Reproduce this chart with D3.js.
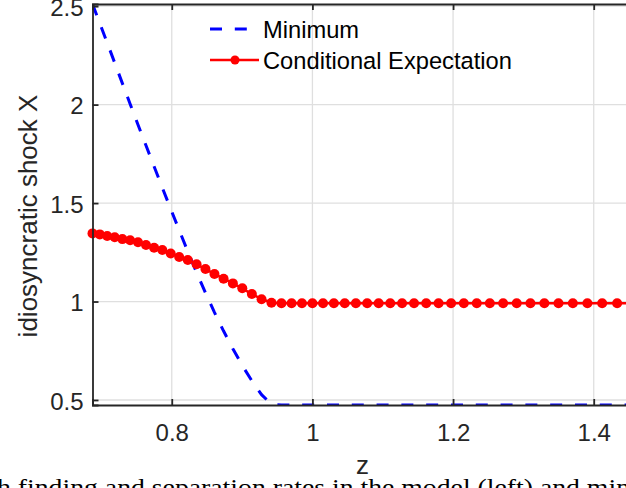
<!DOCTYPE html>
<html>
<head>
<meta charset="utf-8">
<script src="https://cdn.jsdelivr.net/npm/d3@7"></script>
<style>
  html, body { margin: 0; padding: 0; background: #fff; }
  svg { display: block; font-family: "Liberation Sans", Arial, Helvetica, sans-serif; }
</style>
</head>
<body>
<svg id="chart" width="626" height="488"></svg>
<script>
// ---- data ----
const zGrid = [
  0.6873, 0.6977, 0.7082, 0.7189, 0.7298, 0.7408, 0.7520, 0.7634, 0.7749, 0.7866,
  0.7985, 0.8106, 0.8228, 0.8353, 0.8479, 0.8607, 0.8737, 0.8869, 0.9003, 0.9139,
  0.9277, 0.9418, 0.9560, 0.9704, 0.9851, 1.0000, 1.0151, 1.0305, 1.0460, 1.0618,
  1.0779, 1.0942, 1.1107, 1.1275, 1.1445, 1.1618, 1.1794, 1.1972, 1.2153, 1.2337,
  1.2523, 1.2712, 1.2905, 1.3100, 1.3298, 1.3499, 1.3703, 1.3910, 1.4120, 1.4333,
  1.4550
];
const minimumValues = [
  2.511, 2.413, 2.314, 2.212, 2.108, 2.003, 1.898, 1.792, 1.686, 1.578,
  1.470, 1.362, 1.254, 1.148, 1.045, 0.945, 0.850, 0.760, 0.675, 0.597,
  0.527, 0.478, 0.4745, 0.4745, 0.4745, 0.4745, 0.4745, 0.4745, 0.4745, 0.4745,
  0.4745, 0.4745, 0.4745, 0.4745, 0.4745, 0.4745, 0.4745, 0.4745, 0.4745, 0.4745,
  0.4745, 0.4745, 0.4745, 0.4745, 0.4745, 0.4745, 0.4745, 0.4745, 0.4745, 0.4745,
  0.4745
];
const condExpValues = [
  1.346, 1.341, 1.333, 1.326, 1.317, 1.311, 1.301, 1.287, 1.273, 1.262,
  1.244, 1.226, 1.211, 1.189, 1.165, 1.140, 1.116, 1.092, 1.067, 1.038,
  1.012, 0.994, 0.991, 0.991, 0.991, 0.991, 0.991, 0.991, 0.991, 0.991,
  0.991, 0.991, 0.991, 0.991, 0.991, 0.991, 0.991, 0.991, 0.991, 0.991,
  0.991, 0.991, 0.991, 0.991, 0.991, 0.991, 0.991, 0.991, 0.991, 0.991,
  0.991
];
const xTicks = [0.8, 1, 1.2, 1.4];
const yTicks = [0.5, 1, 1.5, 2, 2.5];
const seriesNames = ["Minimum", "Conditional Expectation"];
const xLabel = "z";
const yLabel = "idiosyncratic shock X";
const captionText = "h finding and separation rates in the model (left) and min";

// ---- layout ----
const svg = d3.select("#chart");
const L = 92.5, R = 632.4, T = 4, B = 405;
const axisColor = "#262626";
const sans = "'Liberation Sans', Arial, Helvetica, sans-serif";

const x = d3.scaleLinear().domain([0.6873, 1.455]).range([L, R]);
const y = d3.scaleLinear().domain([0.4745, 2.511]).range([B, T]);

svg.append("defs").append("clipPath").attr("id", "plotclip")
  .append("rect").attr("x", L).attr("y", T).attr("width", R - L).attr("height", B - T);

// grid
const grid = svg.append("g");
grid.selectAll("line.gx").data(xTicks).join("line")
  .attr("x1", d => x(d)).attr("x2", d => x(d)).attr("y1", T).attr("y2", B)
  .attr("stroke", "#dfdfdf").attr("stroke-width", 1.3);
grid.selectAll("line.gy").data(yTicks).join("line")
  .attr("y1", d => y(d)).attr("y2", d => y(d)).attr("x1", L).attr("x2", R)
  .attr("stroke", "#dfdfdf").attr("stroke-width", 1.3);

// data
const pts = zGrid.map((z, i) => ({ z, mn: minimumValues[i], ce: condExpValues[i] }));

svg.append("path").datum(pts)
  .attr("clip-path", "url(#plotclip)")
  .attr("fill", "none").attr("stroke", "#0000ff").attr("stroke-width", 3)
  .attr("stroke-dasharray", "12,12.8")
  .attr("d", d3.line().x(d => x(d.z)).y(d => y(d.mn)));

svg.append("path").datum(pts)
  .attr("fill", "none").attr("stroke", "#ff0000").attr("stroke-width", 2.5)
  .attr("d", d3.line().x(d => x(d.z)).y(d => y(d.ce)));

svg.append("g").selectAll("circle").data(pts).join("circle")
  .attr("cx", d => x(d.z)).attr("cy", d => y(d.ce)).attr("r", 5)
  .attr("fill", "#ff0000");

// axes
const fontSize = 24;
const ax = svg.append("g").attr("transform", `translate(0,${B})`)
  .call(d3.axisBottom(x).tickValues(xTicks).tickFormat(d3.format("")).tickSize(-6).tickPadding(19));
const axTop = svg.append("g").attr("transform", `translate(0,${T})`)
  .call(d3.axisTop(x).tickValues(xTicks).tickFormat("").tickSize(-6));
const ay = svg.append("g").attr("transform", `translate(${L},0)`)
  .call(d3.axisLeft(y).tickValues(yTicks).tickFormat(d3.format("")).tickSize(-6).tickPadding(9));
const ayR = svg.append("g").attr("transform", `translate(${R},0)`)
  .call(d3.axisRight(y).tickValues(yTicks).tickFormat("").tickSize(-6));

[ax, axTop, ay, ayR].forEach(g => {
  g.select(".domain").attr("stroke", axisColor).attr("stroke-width", 1.8);
  g.selectAll(".tick line").attr("stroke", axisColor).attr("stroke-width", 1.8);
  g.selectAll(".tick text").attr("fill", axisColor)
    .style("font-size", fontSize + "px").style("font-family", sans);
});
ay.selectAll(".tick text").attr("dy", "0.38em");

// labels
svg.append("text").attr("transform", "translate(37,216) rotate(-90)")
  .attr("text-anchor", "middle").style("font-size", "26px").style("font-family", sans)
  .attr("fill", axisColor).text(yLabel);
svg.append("text").attr("x", (L + R) / 2).attr("y", 474)
  .attr("text-anchor", "middle").style("font-size", "26px").style("font-family", sans)
  .attr("fill", axisColor).text(xLabel);

// caption fragment (cut off at the bottom)
svg.append("text").attr("x", -3).attr("y", 495)
  .style("font-family", "'Liberation Serif', 'DejaVu Serif', serif")
  .style("font-size", "23px").attr("fill", "#000")
  .attr("textLength", 633).attr("lengthAdjust", "spacingAndGlyphs")
  .text(captionText);

// legend
const leg = svg.append("g");
const legItems = [
  { name: seriesNames[0], cy: 29, type: "dash" },
  { name: seriesNames[1], cy: 60, type: "marker" }
];
legItems.forEach(it => {
  if (it.type === "dash") {
    leg.append("line").attr("x1", 210).attr("x2", 258).attr("y1", it.cy).attr("y2", it.cy)
      .attr("stroke", "#0000ff").attr("stroke-width", 3).attr("stroke-dasharray", "12,12.8");
  } else {
    leg.append("line").attr("x1", 210).attr("x2", 259).attr("y1", it.cy).attr("y2", it.cy)
      .attr("stroke", "#ff0000").attr("stroke-width", 2.5);
    leg.append("circle").attr("cx", 235).attr("cy", it.cy).attr("r", 4.5).attr("fill", "#ff0000");
  }
  leg.append("text").attr("x", 263).attr("y", it.cy + 8.5)
    .style("font-size", "23.7px").style("font-family", sans)
    .attr("fill", "#000").text(it.name);
});
</script>
</body>
</html>
